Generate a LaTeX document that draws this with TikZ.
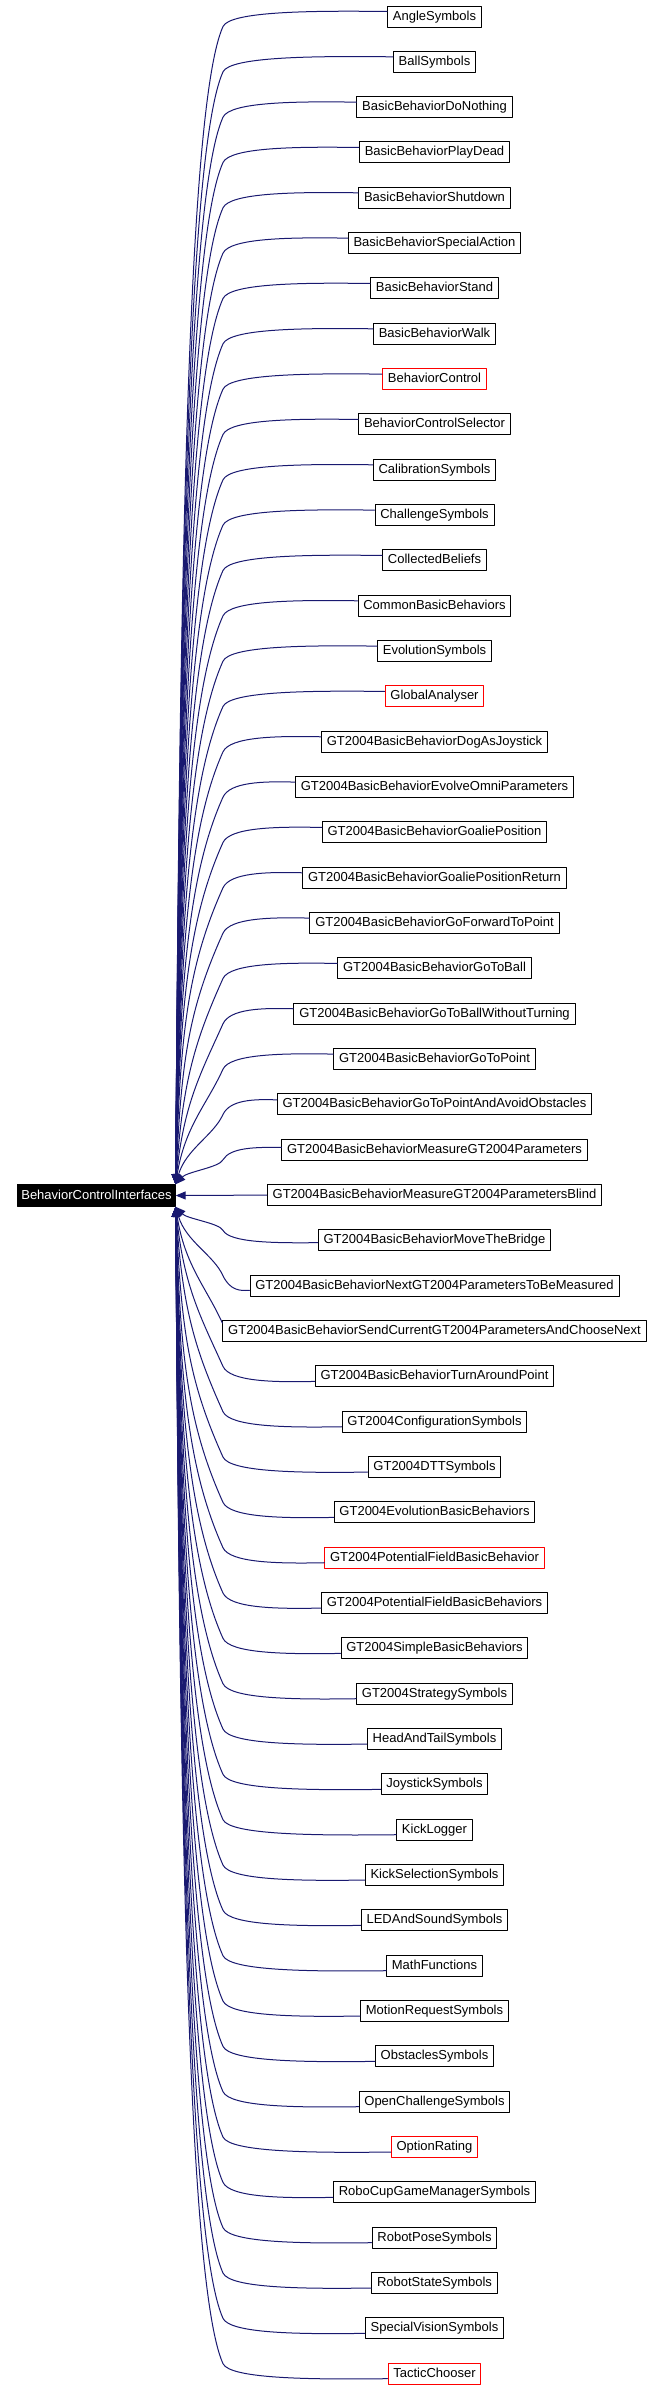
\documentclass[tikz,border=0pt]{standalone}
\usepackage{fontspec}
\setmainfont{Liberation Sans}
\usepackage{tikz}
\usetikzlibrary{arrows.meta}
\definecolor{edgeblue}{RGB}{25,25,112}
\tikzset{
  cls/.style={draw=#1,line width=1pt,fill=white,inner xsep=5.3pt,inner ysep=0pt,minimum height=21pt,
    text height=9.5pt,text depth=2.5pt,font=\fontsize{13pt}{15pt}\selectfont},
  rootcls/.style={draw=black,line width=1pt,fill=black,text=white,inner xsep=3.5pt,inner ysep=0pt,minimum height=21.5pt,
    text height=9.5pt,text depth=2.5pt,font=\fontsize{13pt}{15pt}\selectfont},
  edge/.style={draw=edgeblue,line width=1pt,->}
}
\begin{document}
\begin{tikzpicture}[line cap=round,line join=round,>={Triangle[length=10pt,width=8pt]},x=1pt,y=1pt]
  \useasboundingbox (0,0) rectangle (660,-2391);
  \node[rootcls] (BehaviorControlInterfaces) at (96.5,-1195.5) {BehaviorControlInterfaces};
  \foreach \nm/\col [count=\i from 0] in {AngleSymbols/black,BallSymbols/black,BasicBehaviorDoNothing/black,
    BasicBehaviorPlayDead/black,BasicBehaviorShutdown/black,BasicBehaviorSpecialAction/black,BasicBehaviorStand/black,
    BasicBehaviorWalk/black,BehaviorControl/red,BehaviorControlSelector/black,CalibrationSymbols/black,
    ChallengeSymbols/black,CollectedBeliefs/black,CommonBasicBehaviors/black,EvolutionSymbols/black,GlobalAnalyser/red,
    GT2004BasicBehaviorDogAsJoystick/black,GT2004BasicBehaviorEvolveOmniParameters/black,
    GT2004BasicBehaviorGoaliePosition/black,GT2004BasicBehaviorGoaliePositionReturn/black,
    GT2004BasicBehaviorGoForwardToPoint/black,GT2004BasicBehaviorGoToBall/black,
    GT2004BasicBehaviorGoToBallWithoutTurning/black,GT2004BasicBehaviorGoToPoint/black,
    GT2004BasicBehaviorGoToPointAndAvoidObstacles/black,GT2004BasicBehaviorMeasureGT2004Parameters/black,
    GT2004BasicBehaviorMeasureGT2004ParametersBlind/black,GT2004BasicBehaviorMoveTheBridge/black,
    GT2004BasicBehaviorNextGT2004ParametersToBeMeasured/black,
    GT2004BasicBehaviorSendCurrentGT2004ParametersAndChooseNext/black,GT2004BasicBehaviorTurnAroundPoint/black,
    GT2004ConfigurationSymbols/black,GT2004DTTSymbols/black,GT2004EvolutionBasicBehaviors/black,
    GT2004PotentialFieldBasicBehavior/red,GT2004PotentialFieldBasicBehaviors/black,GT2004SimpleBasicBehaviors/black,
    GT2004StrategySymbols/black,HeadAndTailSymbols/black,JoystickSymbols/black,KickLogger/black,
    KickSelectionSymbols/black,LEDAndSoundSymbols/black,MathFunctions/black,MotionRequestSymbols/black,
    ObstaclesSymbols/black,OpenChallengeSymbols/black,OptionRating/red,RoboCupGameManagerSymbols/black,
    RobotPoseSymbols/black,RobotStateSymbols/black,SpecialVisionSymbols/black,TacticChooser/red}{
    \node[cls=\col] (\nm) at (434.5,{-16.5-45.33*\i}) {\nm};
    \ifnum\i=26
      \draw[edge] (\nm.west) -- (BehaviorControlInterfaces.east);
    \else
      \path (\nm.west); \pgfgetlastxy{\xw}{\yw}
      \pgfmathsetmacro\yc{-16.5-45.33*\i}
      \pgfmathsetmacro\sg{\i<26 ? 1 : -1}
      \pgfmathsetmacro\dist{abs(\yc+1195.5)}
      \pgfmathsetmacro\fc{min(1,\dist/100)}
      \pgfmathsetmacro\sx{\xw}
      \pgfmathsetmacro\sy{\sx<235 ? \yc-\sg*8 : \yc+\sg*5*\fc}
      \pgfmathsetmacro\qx{min(223,\sx)}
      \pgfmathsetmacro\qy{\sx<235 ? \sy : \yc-\sg*10}
      \pgfmathsetmacro\ax{\sx-0.5*max(\sx-230,0)}
      \pgfmathsetmacro\ay{\sx<235 ? \sy : \yc+\sg*6*\fc}
      \pgfmathsetmacro\bx{max(\qx,min(230,\sx))}
      \pgfmathsetmacro\by{\sx<235 ? \sy : \yc+\sg*5*\fc}
      \pgfmathsetmacro\ry{\i<26 ? -1184.75 : -1206.25}
      \pgfmathsetmacro\hh{abs(\qy-\ry)}
      \pgfmathsetmacro\ac{min(80,0.3*\hh)}
      \pgfmathsetmacro\cx{\qx-0.45*\ac}
      \pgfmathsetmacro\cy{\qy-\sg*\ac}
      \pgfmathsetmacro\bc{0.5*\hh}
      \pgfmathsetmacro\ddx{max(4,12-0.05*\bc)}
      \pgfmathsetmacro\ddy{\sg*\bc}
      \ifnum\i<26 \def\anc{north east}\else\def\anc{south east}\fi
      \draw[edge] (\sx,\sy) .. controls (\ax,\ay) and (\bx,\by) .. (\qx,\qy)
        .. controls (\cx,\cy) and +(\ddx,\ddy) .. (BehaviorControlInterfaces.\anc);
    \fi
  }
\end{tikzpicture}
\end{document}
